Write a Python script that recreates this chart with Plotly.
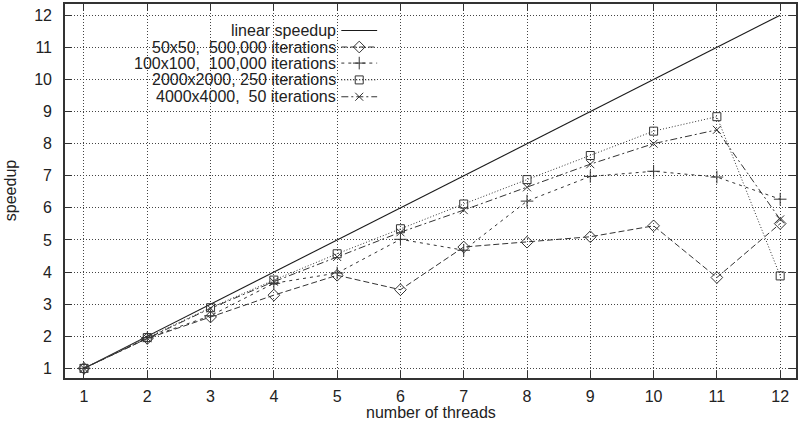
import plotly.graph_objects as go

threads = [1, 2, 3, 4, 5, 6, 7, 8, 9, 10, 11, 12]
linear = [1, 2, 3, 4, 5, 6, 7, 8, 9, 10, 11, 12]
s50 = [1, 1.93, 2.6, 3.28, 3.9, 3.45, 4.78, 4.93, 5.1, 5.44, 3.83, 5.51]
s100 = [1, 1.95, 2.64, 3.65, 3.97, 5.02, 4.68, 6.21, 6.98, 7.14, 6.96, 6.27]
s2000 = [1, 1.96, 2.89, 3.75, 4.57, 5.35, 6.12, 6.88, 7.63, 8.39, 8.84, 3.88]
s4000 = [1, 1.94, 2.87, 3.7, 4.47, 5.24, 5.93, 6.64, 7.36, 8.0, 8.43, 5.64]

names = ["linear speedup", "50x50,  500,000 iterations", "100x100,  100,000 iterations",
         "2000x2000, 250 iterations", "4000x4000,  50 iterations"]
x_ticks = list(range(1, 13))
y_ticks = list(range(1, 13))
x_title = "number of threads"
y_title = "speedup"

FONT = "Liberation Sans, Arial, sans-serif"
FS = 16
TXT = "#222"
LINE_COL = "#333"

styles = [
    dict(dash="solid", symbol=None, color="#1a1a1a", width=1.1, size=8),
    dict(dash="6px,3px", symbol="diamond-open", color=LINE_COL, width=1, size=9),
    dict(dash="3px,4px", symbol="cross-thin-open", color=LINE_COL, width=1, size=9),
    dict(dash="1px,2px", symbol="square-open", color=LINE_COL, width=1, size=8),
    dict(dash="7px,3px,2px,3px", symbol="x-thin-open", color=LINE_COL, width=1, size=8),
]
series = [linear, s50, s100, s2000, s4000]

fig = go.Figure()
for ys, st, nm in zip(series, styles, names):
    mode = "lines" if st["symbol"] is None else "lines+markers"
    marker = dict(symbol=st["symbol"], size=st["size"], color=st["color"],
                  line=dict(color=st["color"], width=1)) if st["symbol"] else None
    fig.add_trace(go.Scatter(x=threads, y=ys, mode=mode, name=nm, showlegend=False,
                             line=dict(color=st["color"], width=st["width"], dash=st["dash"]),
                             marker=marker, hoverinfo="skip"))

# gnuplot-style key: text right-aligned, sample to its right
key_rows = [0.929, 0.885, 0.842, 0.797, 0.752]
key_text_x = 0.373
key_x0, key_x1 = 0.378, 0.427
for yk, st, nm in zip(key_rows, styles, names):
    fig.add_annotation(x=key_text_x, y=yk, xref="paper", yref="paper", text=nm,
                       showarrow=False, xanchor="right", yanchor="middle",
                       font=dict(family=FONT, size=FS, color=TXT))
    fig.add_trace(go.Scatter(x=[key_x0, key_x1], y=[yk, yk], xaxis="x2", yaxis="y2",
                             mode="lines", showlegend=False, hoverinfo="skip",
                             line=dict(color=st["color"], width=st["width"], dash=st["dash"])))
    if st["symbol"]:
        fig.add_trace(go.Scatter(x=[(key_x0 + key_x1) / 2], y=[yk], xaxis="x2", yaxis="y2",
                                 mode="markers", showlegend=False, hoverinfo="skip",
                                 marker=dict(symbol=st["symbol"], size=st["size"], color=st["color"],
                                             line=dict(color=st["color"], width=1))))

# axis titles
fig.add_annotation(x=0.5, y=-0.092, xref="paper", yref="paper", text=x_title,
                   showarrow=False, xanchor="center", yanchor="middle",
                   font=dict(family=FONT, size=FS, color=TXT))
fig.add_annotation(x=-0.075, y=0.5, xref="paper", yref="paper", text=y_title,
                   showarrow=False, xanchor="center", yanchor="middle", textangle=-90,
                   font=dict(family=FONT, size=FS, color=TXT))

axis_common = dict(showline=True, linecolor="#333", linewidth=1.6, mirror="ticks",
                   ticks="inside", ticklen=7, tickwidth=1.2, tickcolor="#333",
                   showgrid=True, gridcolor="#444", griddash="1px,2px", gridwidth=1,
                   zeroline=False, tickfont=dict(family=FONT, size=FS, color=TXT))

fig.update_layout(
    width=798, height=422,
    margin=dict(l=65, r=0, t=4, b=44),
    paper_bgcolor="white", plot_bgcolor="white",
    xaxis=dict(range=[0.7, 12.25], tickvals=x_ticks, ticktext=[str(v) for v in x_ticks],
               ticklabelstandoff=3, **axis_common),
    yaxis=dict(range=[0.7, 12.35], tickvals=y_ticks, ticktext=[str(v) for v in y_ticks],
               ticklabelstandoff=8, **axis_common),
    xaxis2=dict(overlaying="x", range=[0, 1], visible=False),
    yaxis2=dict(overlaying="y", range=[0, 1], visible=False),
    font=dict(family=FONT, size=FS, color=TXT),
)

fig.write_html("out.html", config={"displayModeBar": False},
               post_script="document.body.style.margin='0';")
